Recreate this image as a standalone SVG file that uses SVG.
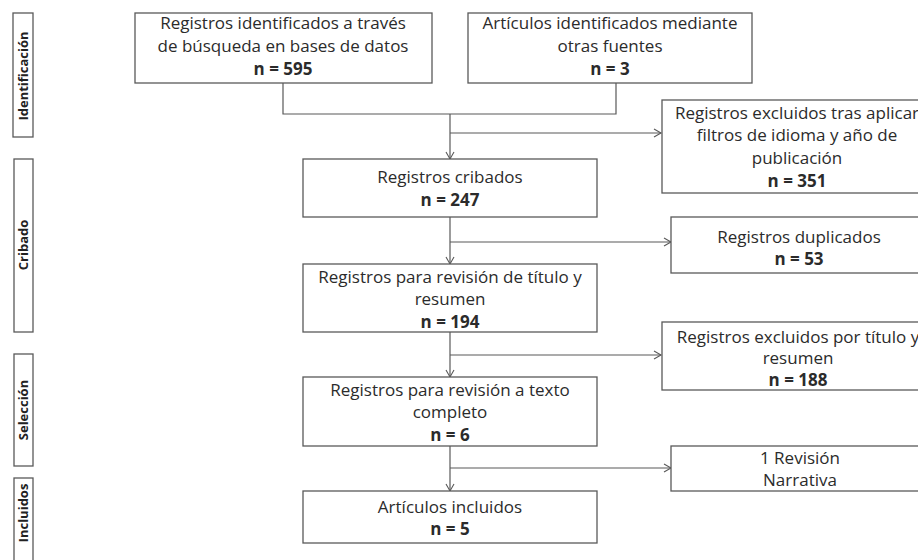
<svg xmlns="http://www.w3.org/2000/svg" width="918" height="560" viewBox="0 0 918 560">
<style>
.b{fill:#fff;stroke:#595959;stroke-width:1.3}
.t{font-family:"Open Sans","Liberation Sans",sans-serif;font-size:17px;fill:#2b2b2b;text-anchor:middle}
.n{font-weight:bold}
.s{font-family:"Open Sans","Liberation Sans",sans-serif;font-size:13px;font-weight:bold;fill:#222;text-anchor:middle}
.c{fill:none;stroke:#595959;stroke-width:1.2}
</style>
<defs>
<marker id="a" markerWidth="10" markerHeight="10" refX="8" refY="5" orient="auto" markerUnits="userSpaceOnUse">
<path d="M1,1 L8,5 L1,9" fill="none" stroke="#595959" stroke-width="1.1"/>
</marker>
</defs>
<rect width="918" height="560" fill="#fff"/>
<g id="stages">
<g id="st1"><rect class="b" x="13" y="13" width="20" height="124"/><text class="s" transform="translate(28,76) rotate(-90)">Identificación</text></g>
<g id="st2"><rect class="b" x="14" y="159" width="19" height="173"/><text class="s" transform="translate(28,245) rotate(-90)">Cribado</text></g>
<g id="st3"><rect class="b" x="14" y="354" width="19" height="112"/><text class="s" transform="translate(28,410) rotate(-90)">Selección</text></g>
<g id="st4"><rect class="b" x="14" y="478" width="19" height="100"/><text class="s" transform="translate(28,513) rotate(-90)">Incluidos</text></g>
</g>
<g id="connectors">
<path class="c" d="M283,83 V114 H616 V83"/>
<path class="c" d="M450,114 V159" marker-end="url(#a)"/>
<path class="c" d="M450,133 H661" marker-end="url(#a)"/>
<path class="c" d="M450,217 V264" marker-end="url(#a)"/>
<path class="c" d="M450,242 H671" marker-end="url(#a)"/>
<path class="c" d="M450,332 V377" marker-end="url(#a)"/>
<path class="c" d="M450,355 H661" marker-end="url(#a)"/>
<path class="c" d="M450,446 V491" marker-end="url(#a)"/>
<path class="c" d="M450,468 H671" marker-end="url(#a)"/>
</g>
<g id="n1"><rect class="b" x="135" y="13" width="297" height="70"/>
<text class="t" x="283" y="29">Registros identificados a través</text>
<text class="t" x="283" y="52">de búsqueda en bases de datos</text>
<text class="t n" x="283" y="75">n = 595</text></g>
<g id="n2"><rect class="b" x="468" y="13" width="284" height="70"/>
<text class="t" x="610" y="29">Artículos identificados mediante</text>
<text class="t" x="610" y="52">otras fuentes</text>
<text class="t n" x="610" y="75">n = 3</text></g>
<g id="n3"><rect class="b" x="662" y="100" width="270" height="93"/>
<text class="t" x="797" y="119">Registros excluidos tras aplicar</text>
<text class="t" x="797" y="141">filtros de idioma y año de</text>
<text class="t" x="797" y="164">publicación</text>
<text class="t n" x="797" y="187">n = 351</text></g>
<g id="n4"><rect class="b" x="303" y="159" width="294" height="58"/>
<text class="t" x="450" y="183">Registros cribados</text>
<text class="t n" x="450" y="206">n = 247</text></g>
<g id="n5"><rect class="b" x="671" y="217" width="256" height="56"/>
<text class="t" x="799" y="243">Registros duplicados</text>
<text class="t n" x="799" y="265">n = 53</text></g>
<g id="n6"><rect class="b" x="303" y="264" width="294" height="68"/>
<text class="t" x="450" y="283">Registros para revisión de título y</text>
<text class="t" x="450" y="305">resumen</text>
<text class="t n" x="450" y="328">n = 194</text></g>
<g id="n7"><rect class="b" x="662" y="322" width="270" height="68"/>
<text class="t" x="798" y="343">Registros excluidos por título y</text>
<text class="t" x="798" y="364">resumen</text>
<text class="t n" x="798" y="386">n = 188</text></g>
<g id="n8"><rect class="b" x="303" y="377" width="294" height="69"/>
<text class="t" x="450" y="396">Registros para revisión a texto</text>
<text class="t" x="450" y="418">completo</text>
<text class="t n" x="450" y="441">n = 6</text></g>
<g id="n9"><rect class="b" x="671" y="446" width="258" height="45"/>
<text class="t" x="800" y="464">1 Revisión</text>
<text class="t" x="800" y="486">Narrativa</text></g>
<g id="n10"><rect class="b" x="303" y="491" width="294" height="52"/>
<text class="t" x="450" y="513">Artículos incluidos</text>
<text class="t n" x="450" y="535">n = 5</text></g>
</svg>
